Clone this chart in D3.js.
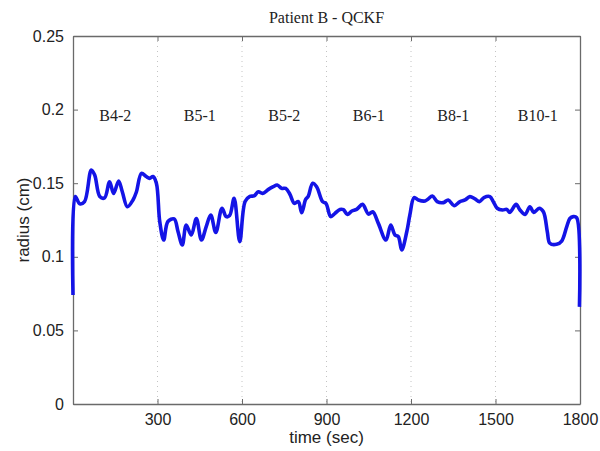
<!DOCTYPE html>
<html>
<head>
<meta charset="utf-8">
<script src="https://cdn.jsdelivr.net/npm/d3@7"></script>
<style>
  body { margin: 0; background: #fff; }
  .tick text { font-family: "Liberation Sans", Arial, sans-serif; }
</style>
</head>
<body>
<div id="chart"></div>
<script>
// Patient B - QCKF : radius over time

var times = [0, 8, 24, 41, 65, 77, 95, 112, 130, 144, 162, 175, 193, 213, 225, 243, 260, 272, 284, 296,
  308, 322, 337, 359, 373, 388, 402, 420, 438, 456, 473, 489, 507, 529, 544, 556, 572, 592, 611,
  628, 643, 658, 673, 694, 711, 725, 741, 755, 770, 786, 800, 812, 826, 835, 851, 865, 886, 898,
  915, 930, 948, 960, 974, 990, 1007, 1028, 1049, 1064, 1084, 1111, 1128, 1143, 1155, 1167, 1185,
  1196, 1211, 1226, 1250, 1261, 1276, 1293, 1315, 1332, 1353, 1374, 1392, 1409, 1427, 1443, 1459,
  1480, 1492, 1506, 1525, 1540, 1551, 1573, 1587, 1605, 1622, 1636, 1655, 1670, 1684, 1693, 1717,
  1735, 1753, 1764, 1776, 1788, 1798];

var radius = [0.074, 0.141, 0.136, 0.1375, 0.159, 0.1556, 0.141, 0.140, 0.151, 0.143, 0.1515, 0.1442,
  0.134, 0.1386, 0.144, 0.1567, 0.1545, 0.1533, 0.1545, 0.150,
  0.1239, 0.1114, 0.124, 0.1257, 0.117, 0.108, 0.1216, 0.1148, 0.126, 0.1114, 0.1205, 0.1284,
  0.1166, 0.133, 0.1273, 0.128, 0.1397, 0.1103, 0.1375,
  0.141, 0.1414, 0.1442, 0.1431, 0.1458, 0.1476, 0.1488, 0.1465, 0.1465, 0.1425, 0.1363, 0.1375,
  0.130, 0.139, 0.141, 0.150, 0.1476, 0.1375, 0.1363,
  0.1273, 0.1295, 0.1322, 0.132, 0.1288, 0.1311, 0.1322, 0.1356, 0.129, 0.1306, 0.1227, 0.1114,
  0.1216, 0.1148, 0.1137, 0.1046, 0.117,
  0.1284, 0.1402, 0.1386, 0.1379, 0.1393, 0.1413, 0.1375, 0.1368, 0.1386, 0.1347, 0.1375, 0.1386,
  0.1409, 0.1393, 0.1375, 0.1402,
  0.1409, 0.1375, 0.133, 0.1318, 0.1322, 0.1302, 0.1356, 0.1318, 0.1288, 0.134, 0.1302, 0.133,
  0.1306, 0.117, 0.1092, 0.1085,
  0.1107, 0.1205, 0.126, 0.1273, 0.1266, 0.066];

var xTicks = [300, 600, 900, 1200, 1500, 1800];
var yTicks = [0, 0.05, 0.1, 0.15, 0.2, 0.25];

var segmentNames = ["B4-2", "B5-1", "B5-2", "B6-1", "B8-1", "B10-1"];
var segmentMids = [150, 450, 750, 1050, 1350, 1650];

var W = 600, H = 451;
var margin = { top: 36, right: 20, bottom: 47, left: 73 };
var iw = W - margin.left - margin.right,
    ih = H - margin.top - margin.bottom;

var svg = d3.select("#chart").append("svg")
    .attr("width", W)
    .attr("height", H);

var g = svg.append("g")
    .attr("transform", "translate(" + margin.left + "," + margin.top + ")");

var x = d3.scaleLinear().domain([0, 1800]).range([0, iw]);
var y = d3.scaleLinear().domain([0, 0.25]).range([ih, 0]);

var axisColor = "#6a6a6a";

// dotted grid at the x ticks
g.selectAll("line.grid")
    .data(xTicks.slice(0, -1))
    .enter().append("line")
    .attr("class", "grid")
    .attr("x1", function (d) { return x(d); })
    .attr("x2", function (d) { return x(d); })
    .attr("y1", 0)
    .attr("y2", ih)
    .attr("stroke", "#c4c4c4")
    .attr("stroke-width", 1)
    .attr("stroke-dasharray", "1,4");

// axes, ticks pointing inward like matlab
var xAxis = g.append("g")
    .attr("transform", "translate(0," + ih + ")")
    .call(d3.axisBottom(x).tickValues(xTicks).tickSizeInner(-5).tickSizeOuter(0).tickPadding(10)
        .tickFormat(d3.format("d")));

var xTop = g.append("g")
    .call(d3.axisTop(x).tickValues(xTicks).tickSizeInner(-5).tickSizeOuter(0).tickFormat(""));

var yAxis = g.append("g")
    .call(d3.axisLeft(y).tickValues(yTicks).tickSizeInner(-5).tickSizeOuter(0).tickPadding(9)
        .tickFormat(function (d) { return d3.format("~g")(d); }));

var yRight = g.append("g")
    .attr("transform", "translate(" + iw + ",0)")
    .call(d3.axisRight(y).tickValues(yTicks).tickSizeInner(-5).tickSizeOuter(0).tickFormat(""));

[xAxis, xTop, yAxis, yRight].forEach(function (a) {
    a.select(".domain").attr("stroke", axisColor).attr("stroke-width", 1.3);
    a.selectAll(".tick line").attr("stroke", axisColor);
    a.selectAll(".tick text")
        .attr("fill", "#222")
        .style("font-size", "16px");
});

// the curve
var line = d3.line()
    .x(function (d, i) { return x(times[i]); })
    .y(function (d) { return y(d); })
    .curve(d3.curveCatmullRom.alpha(0.5));

g.append("path")
    .datum(radius)
    .attr("fill", "none")
    .attr("stroke", "#1414e6")
    .attr("stroke-width", 3.6)
    .attr("stroke-linejoin", "round")
    .attr("d", line);

// segment labels
g.selectAll("text.seg")
    .data(segmentNames)
    .enter().append("text")
    .attr("class", "seg")
    .attr("x", function (d, i) { return x(segmentMids[i]); })
    .attr("y", 85)
    .attr("text-anchor", "middle")
    .attr("font-family", "'Liberation Serif', 'Times New Roman', serif")
    .attr("font-size", 16)
    .attr("fill", "#222")
    .text(function (d) { return d; });

// title and axis labels
svg.append("text")
    .attr("x", margin.left + iw / 2)
    .attr("y", 23)
    .attr("text-anchor", "middle")
    .attr("font-family", "'Liberation Serif', 'Times New Roman', serif")
    .attr("font-size", 16)
    .attr("fill", "#222")
    .text("Patient B - QCKF");

svg.append("text")
    .attr("x", margin.left + iw / 2)
    .attr("y", 443)
    .attr("text-anchor", "middle")
    .attr("font-family", "'Liberation Sans', Arial, sans-serif")
    .attr("font-size", 17)
    .attr("fill", "#222")
    .text("time (sec)");

svg.append("text")
    .attr("transform", "translate(29," + (margin.top + ih / 2) + ") rotate(-90)")
    .attr("text-anchor", "middle")
    .attr("font-family", "'Liberation Sans', Arial, sans-serif")
    .attr("font-size", 17)
    .attr("fill", "#222")
    .text("radius (cm)");
</script>
</body>
</html>
